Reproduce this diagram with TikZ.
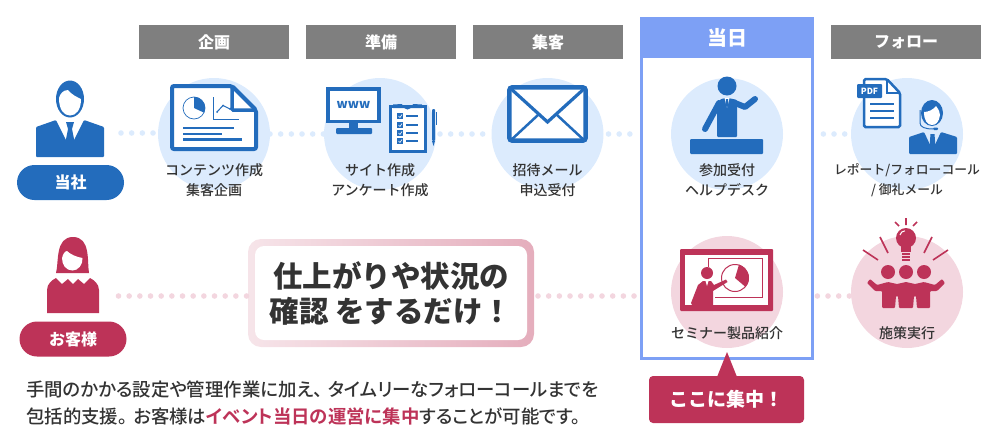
\documentclass[tikz,border=0pt]{standalone}
\usepackage{fontspec}
\setmainfont{Noto Sans CJK JP}
\newfontfamily\medfont{Noto Sans CJK JP Medium}
\newfontfamily\paltfont[RawFeature=+palt,BoldFont={Noto Sans CJK JP Bold}]{Noto Sans CJK JP Medium}
\definecolor{cblue}{HTML}{236CBC}
\definecolor{cbluel}{HTML}{DCEBFD}
\definecolor{cred}{HTML}{BD3358}
\definecolor{credl}{HTML}{F3D6DF}
\definecolor{cgray}{HTML}{7F7F7F}
\definecolor{cframe}{HTML}{7DA0F5}
\definecolor{ctext}{HTML}{333333}

\begin{document}
\begin{tikzpicture}[x=1pt,y=-1pt,
    disc/.style={circle,minimum size=112,inner sep=0,outer sep=0},
    dots/.style={line width=5.6,line cap=round,dash pattern=on 0pt off 10.67pt},
    head/.style={fill=cgray,minimum width=150,minimum height=34,inner sep=0,outer sep=0,
    text=white,font=\fontsize{16}{18}\selectfont\bfseries},
    txt/.style={align=center,text=ctext,inner sep=0,font=\medfont\fontsize{14}{20}\selectfont},
    pill/.style={rounded corners=17.5,minimum width=107,minimum height=35,inner sep=0,outer sep=0,
    text=white,font=\fontsize{16}{18}\selectfont\bfseries},
    thin line/.style={line width=0.7}
    ]
    \useasboundingbox (0,0) rectangle (1000,442);
    \def\Y{134}  % upper row
    \def\Z{292}  % lower row

    % discs
    \foreach \n/\x in {a/214,b/380,c/547.5,d/727,e/907} {
        \node[disc,fill=cbluel] (disc\n) at (\x,\Y) {};
    }
    \foreach \n/\x in {f/727,g/907} {
        \node[disc,fill=credl] (disc\n) at (\x,\Z) {};
    }

    % headers
    \foreach \n/\x/\s in {a/214/企画,b/381/準備,c/548/集客,e/906/フォロー} {
        \node[head] (head\n) at (\x,42) {\s};
    }
    \node[minimum width=171.4,minimum height=340.4,draw=cframe,line width=3.3,inner sep=0,outer sep=1.65] (frame) at (727,188.5) {};
    \node[fill=cframe,minimum width=174.7,minimum height=41,inner sep=0,outer sep=0,text=white,
    font=\fontsize{20}{22}\selectfont\bfseries] (headd) at (727,37.5) {当日};

    % dotted links
    \coordinate (man) at (121,133);
    \coordinate (woman) at (118.5,296);
    \draw[dots,cbluel] (man) -- (man -| disca.west);
    \draw[dots,cbluel] (disca.east) -- (discb.west);
    \draw[dots,cbluel,shorten <=4] (discb.east) -- (discc.west);
    \draw[dots,cbluel,shorten <=5] (discc.east) -- (discc.east -| frame.west);
    \draw[dots,cbluel,shorten <=9] (discd.east -| frame.east) -- (disce.west);

    % message box
    \node[left color=cred!13!white,right color=cred!40!white,rounded corners=13,minimum width=286,
    minimum height=108,inner sep=0,outer sep=0] (msg) at (391,293) {};
    \node[fill=white,rounded corners=9,minimum width=272,minimum height=94,inner sep=0,align=center,
    text=ctext,font=\fontsize{29.5}{35}\selectfont\bfseries] (msgtext) at (msg.center) {仕上がりや状況の\\確認 をするだけ！};
    \draw[dots,credl] (woman) -- (woman -| msg.west);
    \draw[dots,credl,shorten <=4] (woman -| msg.east) -- (woman -| frame.west);
    \draw[dots,credl,shorten <=3] (woman -| frame.east) -- (woman -| discg.west);

    % disc labels
    \node[txt] (texta) at (214,180) {コンテンツ作成\\集客企画};
    \node[txt] (textb) at (380,180) {サイト作成\\アンケート作成};
    \node[txt] (textc) at (547.5,180) {招待メール\\申込受付};
    \node[txt] (textd) at (727,180) {参加受付\\ヘルプデスク};
    \node[txt,font=\medfont\fontsize{12.8}{20}\selectfont] (texte) at (907,180) {レポート/フォローコール\\/ 御礼メール};
    \node[txt] (textf) at (727,333) {セミナー製品紹介};
    \node[txt] (textg) at (907,333) {施策実行};

    % man
    \fill[cblue] (70,99) ellipse (14 and 18.5);
    \fill[white] (59,98) .. controls (60,94) and (63,90) .. (68,90) .. controls (72,95) and (77,97) .. (81,99)
    .. controls (81,110) and (76,115.5) .. (70,115.5) .. controls (64,115.5) and (59,110) .. (59,98) -- cycle;
    \fill[cblue,rounded corners=1] (36,157) -- (36,127) -- (56,120) -- (70,148) -- (84,120) -- (104,127) -- (104,157) -- cycle;
    \fill[cblue] (66,122) -- (74,122) -- (72,129) -- (75,144) -- (70,148) -- (65,144) -- (68,129) -- cycle;
    \node[pill,fill=cblue] (pilla) at (70.5,182.5) {当社};

    % woman
    \fill[cred] (56,273) .. controls (59,262) and (55,237) .. (73,237) .. controls (91,237) and (87,262) .. (89,273) -- cycle;
    \fill[white] (62,258) .. controls (63,254) and (65,251) .. (67,251) .. controls (70,254) and (76,257) .. (82.5,258)
    .. controls (83,265) and (78,270.5) .. (72.5,270.5) .. controls (66,270.5) and (62,265) .. (62,258) -- cycle;
    \fill[cred] (47,313) -- (47,290) .. controls (47,284) and (52,280) .. (56,278) -- (62,284) -- (68,279) -- (73,284)
    -- (78,279) -- (84,284) -- (90,278) .. controls (94,280) and (99,284) .. (99,290) -- (99,313) -- cycle;
    \node[pill,fill=cred] (pillb) at (73,339) {お客様};

    % document
    \draw[cblue,line width=4,fill=white,rounded corners=2] (172,86) -- (232,86) -- (256,110) -- (256,149) -- (172,149) -- cycle;
    \draw[cblue,line width=3.5,rounded corners=1] (232,86) -- (232,110) -- (256,110);
    \draw[cblue,thin line] (194,108) circle (11);
    \fill[cblue] (194,108) -- (194,97) arc[start angle=-90,end angle=25,radius=11] -- cycle;
    \draw[cblue,thin line] (213.5,97) -- (213.5,119) -- (239,119);
    \draw[cblue,line width=1] (217,112) -- (223,105.5) -- (230,109) -- (232,107);
    \foreach \x/\y/\w in {217/112/1,223/105.5/1,230/109/1} {\fill[cblue] (\x,\y) circle (\w);}
    \foreach \y/\x in {128/234,133.7/222,139.4/242} {\draw[cblue,line width=2.2] (183,\y) -- (\x,\y);}

    % monitor
    \draw[cblue,line width=3.5,fill=white] (327.8,88.8) rectangle (379.2,121.5);
    \node[text=cblue,inner sep=0,font=\fontsize{12.5}{14}\selectfont\bfseries] (www) at (353.5,105) {www};
    \fill[cblue] (349,123) rectangle (358,129);
    \fill[cblue,rounded corners=1] (336,128) rectangle (372,134);
    % clipboard
    \draw[cblue,line width=3,fill=white] (390.5,106) rectangle (425,151);
    \fill[cblue] (393,108) -- (393,104.5) -- (402,104) arc[start angle=180,end angle=0,radius=5.5] -- (422,104.5) -- (422,108) -- cycle;
    \foreach \y in {116,125,133,141} {
        \fill[cblue] (397,\y-3) rectangle (403,\y+3);
        \draw[white,line width=0.6] (398.5,\y) -- (400,\y+1.5) -- (402,\y-1.5);
        \draw[cblue,line width=1.3] (406,\y) -- (418,\y);
    }
    \fill[cblue] (432,141) -- (433.5,146) -- (435,141) -- cycle;
    \fill[cblue,rounded corners=1] (432,109) rectangle (435,141);
    \draw[cblue,line width=0.7] (435.5,112) -- (436.8,112) -- (436.8,125);

    % envelope
    \draw[cblue,line width=4.5,fill=white,rounded corners=3] (509.3,87.3) rectangle (585.7,140.7);
    \draw[cblue,line width=3.2] (509.3,87.3) -- (547.5,122) -- (585.7,87.3);
    \draw[cblue,line width=2.5] (510,141) -- (538,115) (557,115) -- (585,141);

    % speaker
    \fill[cblue] (727,86) circle (9.5);
    \fill[cblue,rounded corners=1] (717,137) -- (717,103) -- (721,99) -- (726,98) -- (727,102) -- (728,98) -- (733,99) -- (737,100) -- (737,137) -- cycle;
    \draw[cblue,line width=6,line cap=round] (719,103) -- (705,129);
    \draw[cblue,line width=6,line cap=round,line join=round] (735,103) -- (745,107) -- (755,99);
    \fill[white] (724.5,98) -- (729.5,98) -- (727,108) -- cycle;
    \fill[cblue] (726,99) -- (728,99) -- (728.2,105) -- (727,108) -- (725.8,105) -- cycle;
    \fill[cblue,rounded corners=1] (690,139) rectangle (763,154);

    % pdf and operator
    \draw[cblue,line width=2.5,fill=white,rounded corners=1.5] (864,79.2) -- (887,79.2) -- (900,93) -- (900,127) -- (864,127) -- cycle;
    \draw[cblue,line width=1.6] (887,79.2) -- (887,93) -- (900,93);
    \node[fill=cblue,rounded corners=1,minimum width=25,minimum height=14,inner sep=0,text=white,
    font=\fontsize{8.5}{10}\selectfont\bfseries] (pdf) at (869.5,91) {PDF};
    \foreach \y in {104,111,118} {\draw[cblue,line width=1.1] (870,\y) -- (894,\y);}
    \fill[cblue] (932,113) ellipse (11 and 13);
    \fill[white] (924,112) .. controls (928,112) and (933,110) .. (936,106) .. controls (939,110) and (940,113) .. (940,115)
    .. controls (939,122) and (936,125) .. (932,125) .. controls (927,125) and (924,120) .. (924,112) -- cycle;
    \draw[cblue,line width=1] (920,110) -- (920,123) .. controls (920,127) and (925,129) .. (933,129);
    \fill[cblue,rounded corners=1] (933,127.5) rectangle (938,130);
    \fill[cblue,rounded corners=1] (909,154) -- (909,137) -- (924,132) -- (932.5,150) -- (941,132) -- (957,137) -- (957,154) -- cycle;
    \fill[cblue] (930.5,134) -- (934.5,134) -- (935.5,147) -- (932.5,151) -- (929.5,147) -- cycle;

    % seminar
    \fill[cred,rounded corners=1] (680,249) rectangle (773,311);
    \fill[white] (685,255) rectangle (768,305);
    \draw[cred,line width=1] (708,267) -- (708,258.5) -- (762,258.5) -- (762,297) -- (715,297);
    \draw[cred,line width=1,fill=white] (735,278) circle (13.5);
    \fill[cred] (735,278) -- (739,264.6) arc[start angle=-73,end angle=40,radius=14] -- cycle;
    \fill[cred] (707,273) circle (6);
    \fill[cred] (691,303) -- (698,285) -- (703,281) -- (707,281) -- (711,281) -- (714,285) -- (726,279.5) -- (727.5,282)
    -- (713,291) -- (713,305) -- (692,305) -- cycle;
    \fill[white] (705.5,281) -- (708.5,281) -- (707,286) -- cycle;

    % bulb
    \fill[cred] (906,238) circle (10);
    \fill[cred] (901,245) rectangle (911,252);
    \foreach \y in {252.5,255.5,258.5} {\fill[cred] (902,\y) rectangle (910,\y+2);}
    \draw[white,line width=1] (900,235) arc[start angle=190,end angle=270,radius=5];
    \draw[cred,line width=1.6] (863,250) -- (878,260) (880,237) -- (888,253) (932,237) -- (924,253) (948,250) -- (933,260)
    (906,218) -- (906,225) (895,222) -- (899,226) (917,222) -- (913,226);
    % people
    \foreach \x in {888,906,924} {\fill[cred] (\x,272) circle (7);}
    \fill[cred,rounded corners=1] (882,308) -- (882,291) -- (875,291) -- (867,283) -- (870,279) -- (877,285) -- (888,282) -- (897,284) -- (906,282)
    -- (915,284) -- (924,282) -- (935,285) -- (942,279) -- (945,283) -- (937,291) -- (930,291) -- (930,308) -- (917,308) -- (916,296) -- (914,296)
    -- (913,308) -- (899,308) -- (898,296) -- (896,296) -- (895,308) -- cycle;

    % callout
    \node[fill=cred,rounded corners=4,minimum width=155,minimum height=47,inner sep=0,outer sep=0,text=white,
    font=\fontsize{19}{21}\selectfont\bfseries] (callout) at (726.5,399.5) {ここに集中！};
    \fill[cred] (717,377) -- (727,352) -- (737,377) -- cycle;

    % bottom text
    \node[anchor=north west,align=left,inner sep=0,text=ctext,font=\paltfont\fontsize{18.4}{27}\selectfont] (note) at (26,381)
    {手間のかかる設定や管理作業に加え、\hspace{6pt}タイムリーなフォローコールまでを\\包括的支援。\hspace{6pt}お客様は{\bfseries\color{cred}イベント当日の運営に集中}することが可能です。};
\end{tikzpicture}
\end{document}
